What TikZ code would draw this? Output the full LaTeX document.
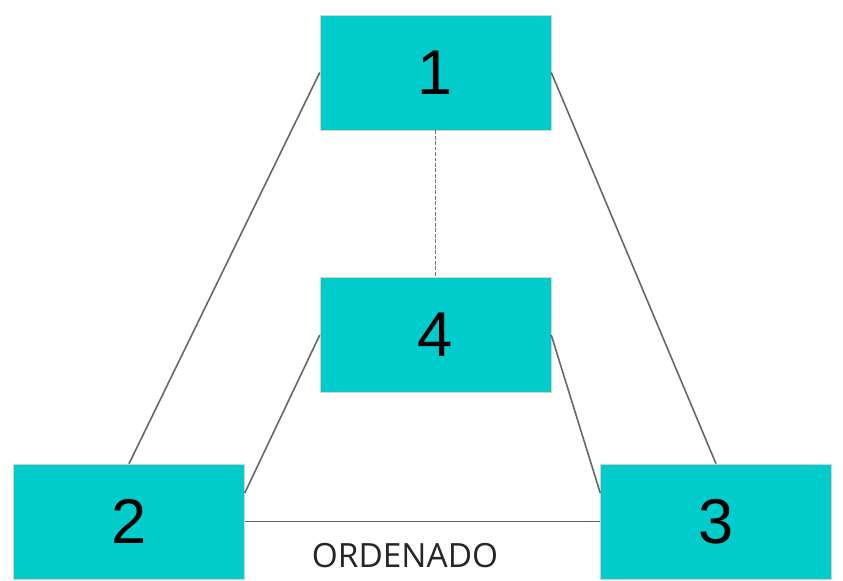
\documentclass[tikz,border=0pt]{standalone}
\usepackage{fontspec}
\setmainfont{Liberation Sans}
\newfontfamily\labelfont{Open Sans}
\usetikzlibrary{positioning}
\definecolor{boxcyan}{RGB}{0,204,204}
\definecolor{linegray}{RGB}{102,102,102}

\begin{document}
\begin{tikzpicture}[box/.style={rectangle, fill=boxcyan, draw=gray!35, line width=0.3pt, minimum width=4.62cm, minimum height=2.3cm, inner sep=0pt, font=\fontsize{36}{40}\selectfont},
                    link/.style={draw=linegray, line width=0.9pt}]
%\draw [help lines] (-9,-10) grid (8,1);
\useasboundingbox (-8.71,1.45) rectangle (8.15,-10.15);

\node[box]                                   (n1) {1};
\node[box, below = 2.94cm of n1]             (n4) {4};
\node[box, below left = 1.42cm and 1.5cm of n4]   (n2) {2};
\node[box, below right = 1.42cm and 0.98cm of n4] (n3) {3};

% Edges
\draw[link, draw=black!55, line width=1.1pt, dash pattern=on 2.2pt off 0.9pt] (n1.south) -- (n4.north);
\draw[link] (n1.west) -- (n2.north);
\draw[link] (n1.east) -- (n3.north);
\draw[link] (n4.west) -- ([yshift=0.57cm]n2.east);
\draw[link] (n4.east) -- ([yshift=0.57cm]n3.west);
\draw[link] (n2.east) -- node[below = 0.42cm, xshift=-0.35cm, inner sep=0pt, font=\labelfont\fontsize{19}{21}\selectfont, text=black!85] {ORDENADO} (n3.west);
\end{tikzpicture}
\end{document}
